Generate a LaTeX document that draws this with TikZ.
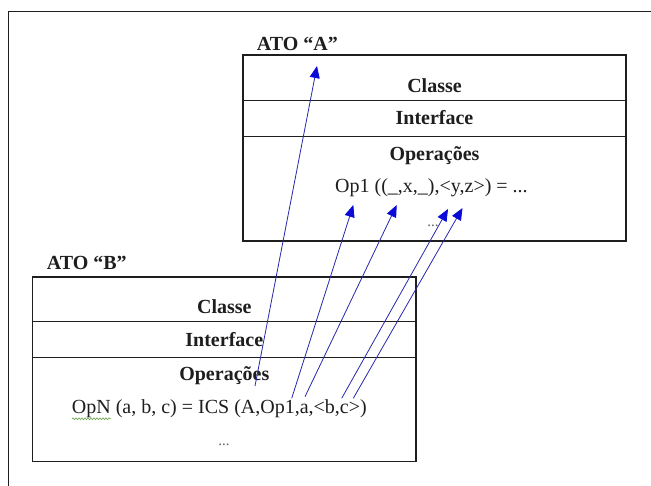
\documentclass[tikz,border=0pt]{standalone}
\usepackage{fontspec}
\setmainfont{Liberation Serif}
\usetikzlibrary{arrows.meta,decorations.pathmorphing}
\definecolor{ink}{RGB}{30,30,30}
\definecolor{arrowline}{RGB}{40,40,170}
\definecolor{arrowhead}{RGB}{10,10,215}
\definecolor{squig}{RGB}{120,170,90}
\tikzset{
  boxline/.style={draw=ink,line width=1.4pt},
  rowline/.style={draw=ink,line width=1.2pt},
  title/.style={font=\fontsize{20}{24}\selectfont\bfseries,text=ink,inner sep=0pt,anchor=base west},
  rowlabel/.style={font=\fontsize{20}{24}\selectfont\bfseries,text=ink,inner sep=0pt,anchor=base},
  optext/.style={font=\fontsize{20}{24}\selectfont,text=ink,inner sep=0pt,anchor=base west},
  dots/.style={font=\fontsize{15}{18}\selectfont,text=ink!70,inner sep=0pt,anchor=base},
  link/.style={draw=arrowline,line width=0.8pt,-{Triangle[length=12pt,width=10pt,fill=arrowhead,color=arrowhead]}}
}
\begin{document}
\begin{tikzpicture}[x=1pt,y=-1pt]
\useasboundingbox (0,0) rectangle (651,486);
\begin{scope}
  \clip (0,0) rectangle (651,486);
  \draw[boxline] (8.5,11.7) rectangle (700,540);
\end{scope}

% Box A
\draw[boxline,fill=white] (243,55) rectangle (626,241);
\draw[rowline] (243,100.7) -- (626,100.7);
\draw[rowline] (243,136.7) -- (626,136.7);
\node[title] (titleA) at (256.7,50.7) {ATO “A”};
\node[rowlabel] (classeA) at (434.5,93) {Classe};
\node[rowlabel] (interfA) at (434.5,125) {Interface};
\node[rowlabel] (operA) at (434.5,161) {Operações};
\node[optext] (op1) at (335,193) {Op1 ((\_,x,\_),<y,z>) = ...};
\node[dots] (dotsA) at (433,227) {...};

% Box B
\draw[boxline,fill=white] (32.7,277) rectangle (416,461.7);
\draw[rowline] (32.7,321.7) -- (416,321.7);
\draw[rowline] (32.7,357.3) -- (416,357.3);
\node[title] (titleB) at (46.7,270) {ATO “B”};
\node[rowlabel] (classeB) at (224.3,313.3) {Classe};
\node[rowlabel] (interfB) at (224.3,346.7) {Interface};
\node[rowlabel] (operB) at (224.3,381) {Operações};
\node[optext] (opN) at (71.7,413.3) {OpN (a, b, c) = ICS (A,Op1,a,<b,c>)};
\node[dots] (dotsB) at (224,446) {...};
\draw[squig,line width=0.7pt,decorate,decoration={snake,amplitude=0.9pt,segment length=3pt}] (72,418.8) -- (111,418.8);

% connector end points
\coordinate (t1) at (255,386);
\coordinate (t2) at (291.7,398.3);
\coordinate (t3) at (305,396.7);
\coordinate (t4) at (341.7,398.3);
\coordinate (t5) at (353.3,398.3);
\coordinate (h1) at (317,66);
\coordinate (h2) at (353.3,205);
\coordinate (h3) at (396.7,205);
\coordinate (h4) at (448,209);
\coordinate (h5) at (462.5,208);

\draw[link] (t1) -- (h1);
\draw[link] (t2) -- (h2);
\draw[link] (t3) -- (h3);
\draw[link] (t4) -- (h4);
\draw[link] (t5) -- (h5);
\end{tikzpicture}
\end{document}
